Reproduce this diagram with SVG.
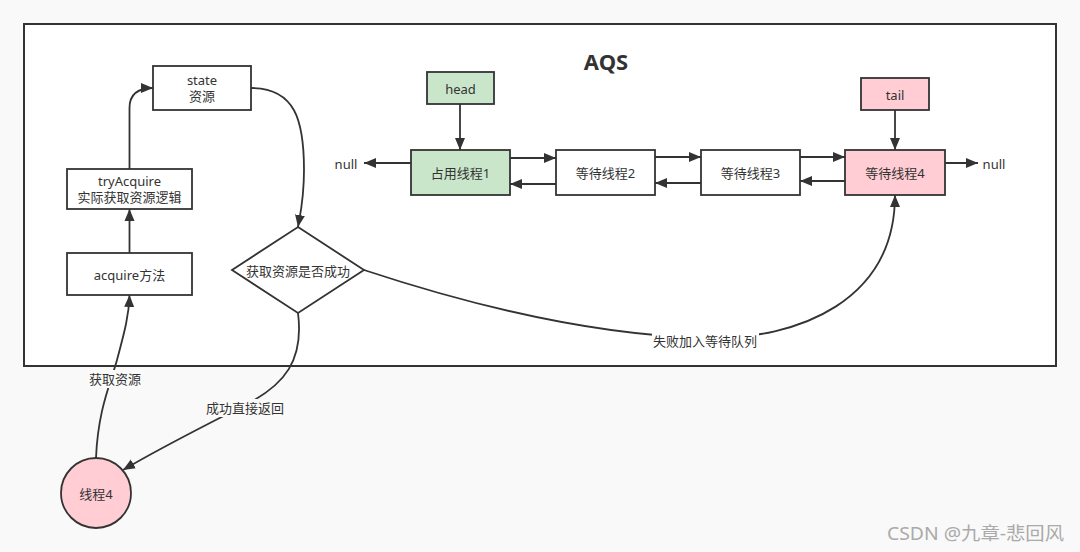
<svg xmlns="http://www.w3.org/2000/svg" width="1080" height="552" viewBox="0 0 1080 552">
<defs>
<style>
text{font-family:"Noto Sans","Noto Sans CJK SC",sans-serif;font-size:13px;fill:#333;text-anchor:middle;dominant-baseline:central}
.n{fill:#fff;stroke:#333;stroke-width:1.8}
.g{fill:#c9e6cb}
.p{fill:#ffcdd3}
.c{fill:none;stroke:#333;stroke-width:1.8}
.lb{fill:#fafafa}
</style>
<marker id="a" markerUnits="userSpaceOnUse" markerWidth="13" markerHeight="11" refX="12" refY="5.5" orient="auto">
<path d="M0,0.5 L12,5.5 L0,10.5 z" fill="#333"/>
</marker>
</defs>
<rect x="0" y="0" width="1080" height="552" fill="#f9f9f9"/>
<rect id="aqs" x="24" y="24" width="1032" height="342" fill="#fff" stroke="#333" stroke-width="2"/>
<text x="606" y="61" style="font-size:22px;font-weight:bold">AQS</text>

<g id="connectors">
<path class="c" d="M129.5,253 L129.5,209" marker-end="url(#a)"/>
<path class="c" d="M129.5,169 L129.5,108 Q129.5,88 153,88" marker-end="url(#a)"/>
<path class="c" d="M251,88 C295,88 304,120 304,170 C304,200 300,215 298,227" marker-end="url(#a)"/>
<path class="c" d="M298,313 C304,360 285,385 245,405 C200,428 160,448 123,470" marker-end="url(#a)"/>
<path class="c" d="M96,458 C98,410 110,385 117,360 C125,330 129,315 129.5,295" marker-end="url(#a)"/>
<path class="c" d="M364,270 C470,305 590,335 705,338 C800,340 895,300 895,195" marker-end="url(#a)"/>
<path class="c" d="M460,104 L460,150" marker-end="url(#a)"/>
<path class="c" d="M895,110 L895,150" marker-end="url(#a)"/>
<path class="c" d="M411,163 L364,163" marker-end="url(#a)"/>
<path class="c" d="M945,163 L978,163" marker-end="url(#a)"/>
<path class="c" d="M510,158 L556,158" marker-end="url(#a)"/>
<path class="c" d="M556,184 L510,184" marker-end="url(#a)"/>
<path class="c" d="M655,157 L701,157" marker-end="url(#a)"/>
<path class="c" d="M701,183 L655,183" marker-end="url(#a)"/>
<path class="c" d="M800,157 L845,157" marker-end="url(#a)"/>
<path class="c" d="M845,181 L800,181" marker-end="url(#a)"/>
<rect class="lb" x="87" y="370" width="56" height="18"/>
<text x="115" y="379">获取资源</text>
<rect class="lb" x="205" y="399" width="81" height="18"/>
<text x="245" y="408">成功直接返回</text>
<rect x="652" y="332" width="107" height="18" fill="#fff"/>
<text x="705" y="341">失败加入等待队列</text>
</g>

<g id="state"><rect class="n" x="153" y="66" width="98" height="44"/><text x="202" y="80">state</text><text x="202" y="96">资源</text></g>
<g id="tryAcquire"><rect class="n" x="67" y="169" width="125" height="40"/><text x="129.5" y="181">tryAcquire</text><text x="129.5" y="197">实际获取资源逻辑</text></g>
<g id="acquire"><rect class="n" x="67" y="253" width="125" height="42"/><text x="129.5" y="275">acquire方法</text></g>
<g id="decision"><path class="n" d="M298,227 L364,270 L298,313 L232,270 z"/><text x="298" y="271">获取资源是否成功</text></g>
<g id="head"><rect class="n g" x="427" y="72" width="67" height="32"/><text x="460.5" y="89">head</text></g>
<g id="tail"><rect class="n p" x="861" y="78" width="68" height="32"/><text x="895" y="95">tail</text></g>
<g id="t1"><rect class="n g" x="411" y="150" width="99" height="45"/><text x="460.5" y="173">占用线程1</text></g>
<g id="t2"><rect class="n" x="556" y="150" width="99" height="45"/><text x="605.5" y="173">等待线程2</text></g>
<g id="t3"><rect class="n" x="701" y="150" width="99" height="45"/><text x="750.5" y="173">等待线程3</text></g>
<g id="t4"><rect class="n p" x="845" y="150" width="100" height="45"/><text x="895" y="173">等待线程4</text></g>
<g id="nullL"><text x="346" y="164">null</text></g>
<g id="nullR"><text x="994" y="164">null</text></g>
<g id="thread4"><circle class="n p" cx="96" cy="493" r="35"/><text x="96" y="494">线程4</text></g>
<text x="887" y="533" textLength="177" lengthAdjust="spacingAndGlyphs" style="font-size:18px;fill:#aaa;text-anchor:start">CSDN @九章-悲回风</text>
</svg>
